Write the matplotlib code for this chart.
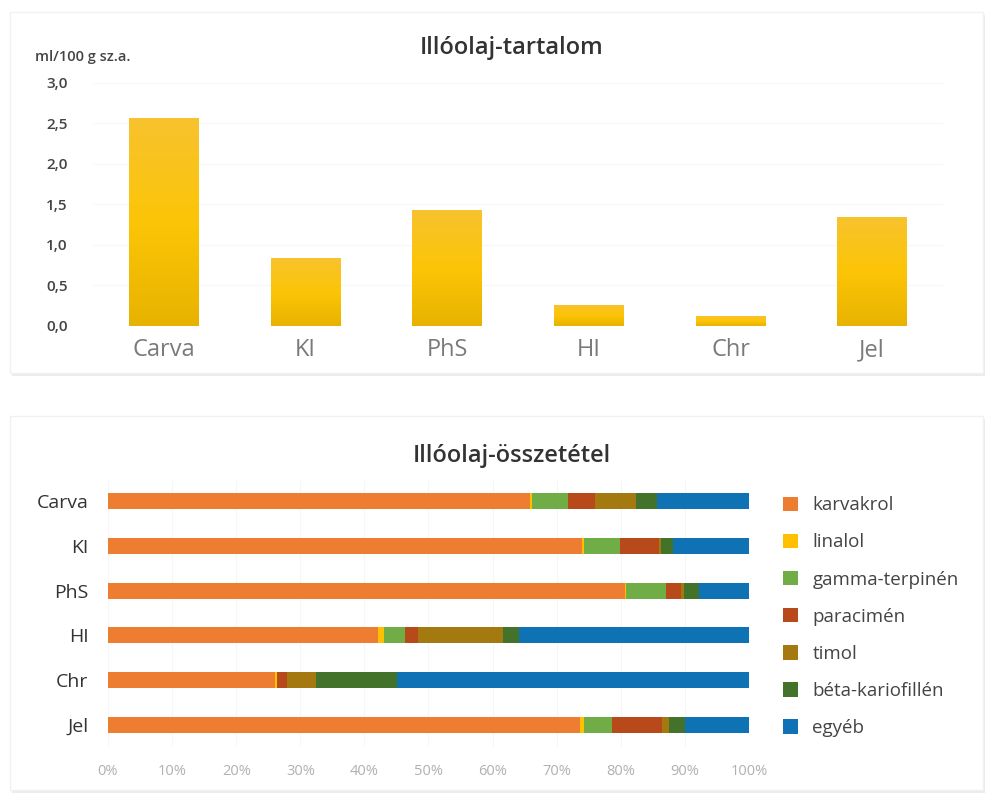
import numpy as np
import matplotlib
matplotlib.use("Agg")
import matplotlib.pyplot as plt
from matplotlib.patches import Rectangle
from matplotlib.colors import LinearSegmentedColormap

plt.rcParams['font.family'] = ['Open Sans', 'DejaVu Sans']

# data
samples = ['Carva', 'KI', 'PhS', 'HI', 'Chr', 'Jel']
oil_content = [2.57, 0.84, 1.43, 0.26, 0.12, 1.35]

components = ['karvakrol', 'linalol', 'gamma-terpinén', 'paracimén',
              'timol', 'béta-kariofillén', 'egyéb']
karvakrol = [65.8, 74.0, 80.6, 42.1, 26.1, 73.6]
linalol = [0.3, 0.2, 0.2, 1.0, 0.2, 0.7]
gamma_terpinen = [5.7, 5.7, 6.3, 3.2, 0.0, 4.3]
paracimen = [4.2, 6.0, 2.3, 2.0, 1.7, 7.8]
timol = [6.3, 0.3, 0.4, 13.4, 4.4, 1.1]
beta_kariofillen = [3.3, 2.0, 2.4, 2.4, 12.7, 2.5]
egyeb = [14.4, 11.8, 7.8, 35.9, 54.9, 10.0]

comp_colors = ['#ED7D31', '#FFC000', '#70AD47', '#B8491A',
               '#A47A10', '#43722B', '#0F72B5']

fig = plt.figure(figsize=(9.89, 7.98), dpi=100)
fig.patch.set_facecolor('white')

# card backgrounds with a faint shadow
for (x0, y0, w, h) in [(10, 12, 973, 361), (10, 416, 973, 374)]:
    fx, fy = x0 / 989, 1 - (y0 + h) / 798
    fw, fh = w / 989, h / 798
    fig.patches.append(Rectangle((fx + 0.002, fy - 0.004), fw, fh,
                                 transform=fig.transFigure, facecolor='#ececec',
                                 edgecolor='none', zorder=-2))
    fig.patches.append(Rectangle((fx, fy), fw, fh, transform=fig.transFigure,
                                 facecolor='white', edgecolor='#f1f1f1',
                                 linewidth=1, zorder=-1))

# --- top chart: essential oil content ---
ax1 = fig.add_axes([0.094, 0.5915, 0.8595, 0.3045])
ax1.set_facecolor('none')
x = np.arange(len(samples))
bars = ax1.bar(x, oil_content, width=0.49, color='#fbc20d', zorder=2)
grad = LinearSegmentedColormap.from_list('g', ['#e8b300', '#fcc507', '#f8c22f'])
gimg = np.linspace(0, 1, 256).reshape(-1, 1)
for b in bars:
    bx, by = b.get_x(), b.get_y()
    im = ax1.imshow(gimg, cmap=grad, origin='lower', aspect='auto',
                    interpolation='bilinear',
                    extent=(bx, bx + b.get_width(), by, by + b.get_height()),
                    zorder=3)
    im.set_clip_path(b)
ax1.set_xlim(-0.5, len(samples) - 0.5)
ax1.set_ylim(0, 3.0)
ax1.set_yticks(np.arange(0, 3.01, 0.5))
ax1.set_yticklabels([f'{v:.1f}'.replace('.', ',') for v in np.arange(0, 3.01, 0.5)],
                    fontsize=11, color='#444444', fontweight='semibold')
ax1.set_xticks(x)
ax1.set_xticklabels(samples, fontsize=17, color='#7a7a7a')
ax1.tick_params(axis='both', length=0)
ax1.tick_params(axis='y', pad=18)
ax1.tick_params(axis='x', pad=9)
ax1.grid(axis='y', color='#f7f7f7', linewidth=0.8, zorder=0)
for s in ax1.spines.values():
    s.set_visible(False)
fig.text(0.5175, 0.94, 'Illóolaj-tartalom', ha='center', va='center',
         fontsize=17, fontweight='semibold', color='#333333')
fig.text(0.035, 0.928, 'ml/100 g sz.a.', ha='left', va='center',
         fontsize=10.5, fontweight='semibold', color='#444444')

# --- bottom chart: composition ---
ax2 = fig.add_axes([0.1092, 0.0634, 0.6481, 0.3369])
ax2.set_facecolor('none')
series = [karvakrol, linalol, gamma_terpinen, paracimen, timol,
          beta_kariofillen, egyeb]
y = np.arange(len(samples))
left = np.zeros(len(samples))
for name, vals, col in zip(components, series, comp_colors):
    ax2.barh(y, vals, left=left, height=0.36, color=col, label=name, zorder=2)
    left += np.array(vals)
ax2.set_xlim(0, 100)
ax2.set_ylim(len(samples) - 0.5, -0.5)
ax2.set_yticks(y)
ax2.set_yticklabels(samples, fontsize=14, color='#333333')
ax2.set_xticks(np.arange(0, 101, 10))
ax2.set_xticklabels([f'{v}%' for v in range(0, 101, 10)], fontsize=10.5,
                    color='#b0b0b0')
ax2.tick_params(axis='both', length=0)
ax2.tick_params(axis='y', pad=14)
ax2.tick_params(axis='x', pad=12)
ax2.grid(axis='x', color='#f6f6f6', linewidth=0.8, zorder=0)
for s in ax2.spines.values():
    s.set_visible(False)
fig.text(0.5175, 0.428, 'Illóolaj-összetétel', ha='center', va='center',
         fontsize=17, fontweight='semibold', color='#333333')
ax2.legend(loc='upper left', bbox_to_anchor=(0.792, 0.378),
           bbox_transform=fig.transFigure, frameon=False, fontsize=13.5,
           labelcolor='#444444', handlelength=0.8, handleheight=0.8,
           handletextpad=0.75, labelspacing=1.02, borderpad=0,
           borderaxespad=0)

fig.savefig('out.png', dpi=100, facecolor='white')
